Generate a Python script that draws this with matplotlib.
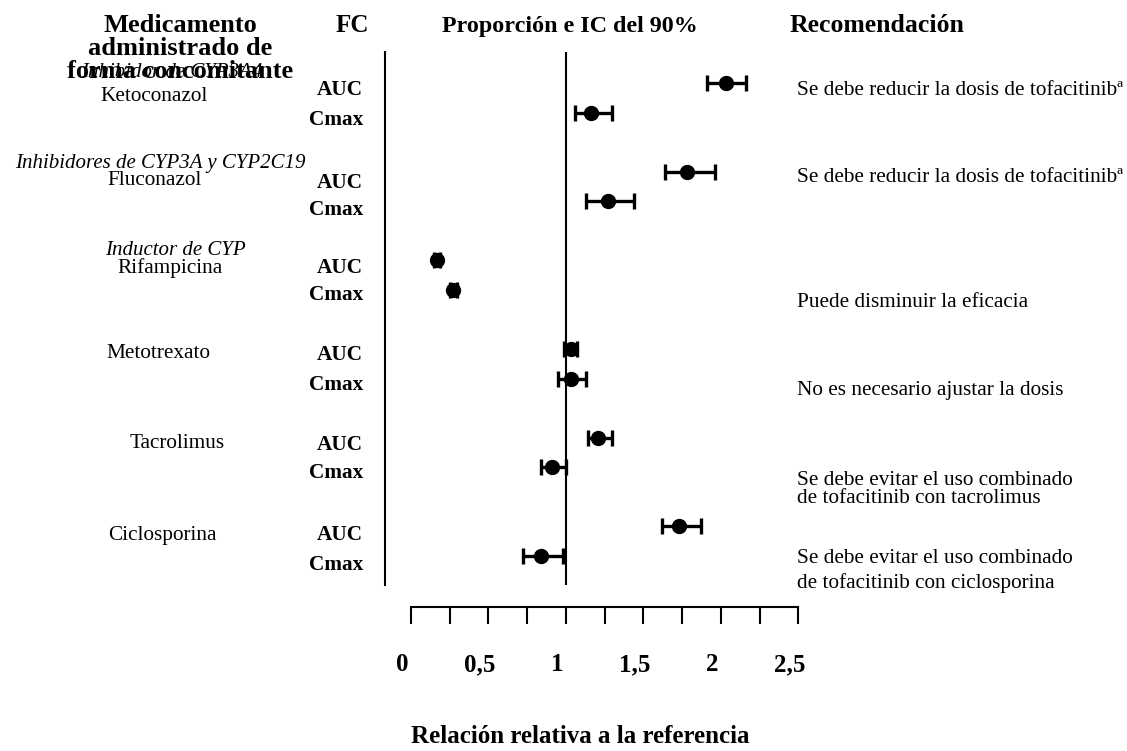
import numpy as np
import matplotlib
matplotlib.use("Agg")
import matplotlib.pyplot as plt
from matplotlib.transforms import ScaledTranslation

# ---------------- data ----------------
drugs = ["Ketoconazol", "Fluconazol", "Rifampicina", "Metotrexato", "Tacrolimus", "Ciclosporina"]
classes = ["Inhibidor de CYP3A4", "Inhibidores de CYP3A y CYP2C19", "Inductor de CYP", "", "", ""]
auc = [2.03, 1.78, 0.17, 1.03, 1.21, 1.73]
auc_lo = [1.91, 1.64, 0.15, 0.99, 1.14, 1.62]
auc_hi = [2.16, 1.96, 0.19, 1.07, 1.30, 1.87]
cmax = [1.16, 1.27, 0.27, 1.03, 0.91, 0.84]
cmax_lo = [1.06, 1.13, 0.25, 0.95, 0.84, 0.72]
cmax_hi = [1.30, 1.44, 0.30, 1.13, 1.00, 0.98]
pk_labels = ["AUC", "Cmax"]
recommendations = [
    ["Se debe reducir la dosis de tofacitinibª"],
    ["Se debe reducir la dosis de tofacitinibª"],
    ["Puede disminuir la eficacia"],
    ["No es necesario ajustar la dosis"],
    ["Se debe evitar el uso combinado", "de tofacitinib con tacrolimus"],
    ["Se debe evitar el uso combinado", "de tofacitinib con ciclosporina"],
]
tick_vals = [0, 0.5, 1, 1.5, 2, 2.5]
tick_labels = ["0", "0,5", "1", "1,5", "2", "2,5"]
minor_vals = [0.25, 0.75, 1.25, 1.75, 2.25]

# ---------------- figure ----------------
W, H = 1127, 751
fig = plt.figure(figsize=(W / 100, H / 100), dpi=100)
SERIF = "Liberation Serif"


def fx(x):
    return x / W


def fy(y):
    return 1 - y / H


def ptext(x, y, s, **kw):
    kw.setdefault("family", SERIF)
    kw.setdefault("va", "baseline")
    fig.text(fx(x), fy(y), s, **kw)


# main plotting axes
ax = fig.add_axes([fx(385), fy(585), fx(798) - fx(385), fy(52) - fy(585)])
ax.set_xlim(-0.168, 2.498)
ax.set_ylim(5.66, -0.35)
for s in ["top", "right", "bottom"]:
    ax.spines[s].set_visible(False)
ax.spines["left"].set_linewidth(1.5)
ax.set_xticks([])
ax.set_yticks([])
ax.patch.set_alpha(0)
ax.axvline(1.0, color="black", lw=1.5)

n = len(drugs)
y_auc = np.arange(n, dtype=float)
y_cmax = y_auc + 1 / 3
a = np.array(auc)
c = np.array(cmax)
ax.errorbar(a, y_auc, xerr=[a - np.array(auc_lo), np.array(auc_hi) - a],
            fmt="o", color="black", ms=10, elinewidth=2.4, capsize=5.5, capthick=2.4,
            clip_on=False)
ax.errorbar(c, y_cmax, xerr=[c - np.array(cmax_lo), np.array(cmax_hi) - c],
            fmt="o", color="black", ms=10, elinewidth=2.4, capsize=5.5, capthick=2.4,
            clip_on=False)

# separate x axis
ax2 = fig.add_axes([fx(411), fy(607), fx(798.3) - fx(411), 0.01])
ax2.set_xlim(0, 2.5)
for s in ["top", "right", "left"]:
    ax2.spines[s].set_visible(False)
ax2.spines["bottom"].set_linewidth(1.5)
ax2.set_yticks([])
ax2.patch.set_alpha(0)
ax2.set_xticks(tick_vals)
ax2.set_xticks(minor_vals, minor=True)
ax2.set_xticklabels(tick_labels, family=SERIF, fontweight="bold", fontsize=18)
ax2.tick_params(axis="x", which="both", direction="out", length=12, width=1.5)
ax2.tick_params(axis="x", which="major", pad=21)
off = ScaledTranslation(-9 / 100, 0, fig.dpi_scale_trans)
for lab in ax2.get_xticklabels():
    lab.set_transform(lab.get_transform() + off)

# headers
for yb, line in zip([32, 55, 78], ["Medicamento", "administrado de", "forma concomitante"]):
    ptext(180, yb, line, ha="center", fontsize=19, fontweight="bold")
ptext(352, 32, "FC", ha="center", fontsize=18, fontweight="bold")
ptext(570, 32, "Proporción e IC del 90%", ha="center", fontsize=17.3, fontweight="bold")
ptext(877, 32, "Recomendación", ha="center", fontsize=18.5, fontweight="bold")

# class + drug labels
class_pos = [(172, 77), (160, 168), (175, 255)]
drug_pos = [(154, 101), (155, 185), (170, 273), (158, 358), (177, 448), (162, 540)]
for i in range(n):
    if classes[i]:
        cx, cy = class_pos[i]
        ptext(cx, cy, classes[i], ha="center", fontsize=15, style="italic")
    dx, dy = drug_pos[i]
    ptext(dx, dy, drugs[i], ha="center", fontsize=15.3)

# PK labels
auc_base = [95, 188, 273, 360, 450, 540]
cmax_base = [125, 215, 300, 390, 478, 570]
for i in range(n):
    ptext(363, auc_base[i], pk_labels[0], ha="right", fontsize=15.3, fontweight="bold")
    ptext(363, cmax_base[i], pk_labels[1], ha="right", fontsize=15.3, fontweight="bold")

# recommendations
rec_base = [[95], [182], [307], [395], [485, 503], [563, 588]]
for lines, bases in zip(recommendations, rec_base):
    for line, yb in zip(lines, bases):
        ptext(797, yb, line, ha="left", fontsize=15.3)

# x label
ptext(580, 743, "Relación relativa a la referencia", ha="center", fontsize=18, fontweight="bold")

fig.savefig("out.png", dpi=100)
